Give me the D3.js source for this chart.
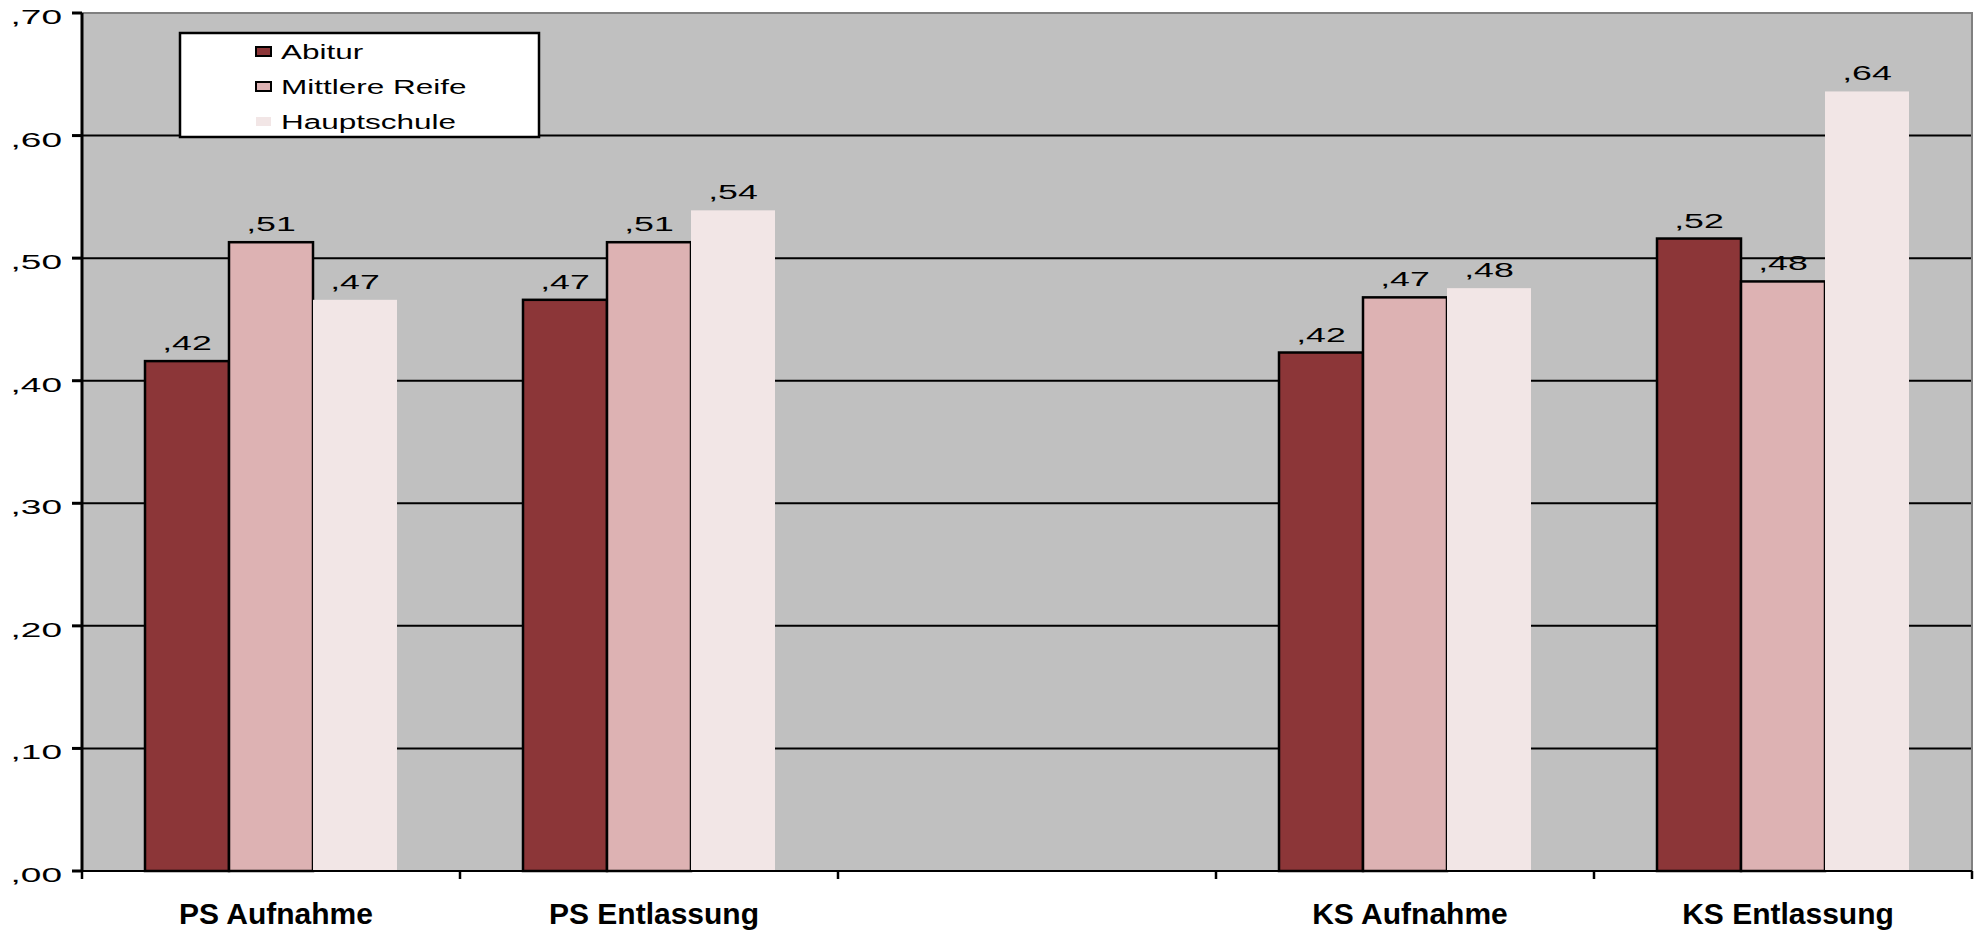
<!DOCTYPE html>
<html>
<head>
<meta charset="utf-8">
<script src="https://cdn.jsdelivr.net/npm/d3@7"></script>
<style>
  html, body { margin: 0; padding: 0; background: #ffffff; }
  svg { display: block; }
  text { font-family: "Liberation Sans", Arial, sans-serif; fill: #000; }
</style>
</head>
<body>
<svg id="chart" width="1980" height="932"></svg>
<script>
// ---- data ----
const categories = ["PS Aufnahme", "PS Entlassung", " ", "KS Aufnahme", "KS Entlassung"];
const seriesNames = ["Abitur", "Mittlere Reife", "Hauptschule"];
const abitur      = [0.416, 0.466, null, 0.423, 0.516];
const mittlere    = [0.513, 0.513, null, 0.468, 0.481];
const hauptschule = [0.466, 0.539, null, 0.4755, 0.636];
const yTicks = [0, 0.1, 0.2, 0.3, 0.4, 0.5, 0.6, 0.7];

const seriesValues = [abitur, mittlere, hauptschule];
const colors = ["#8C3638", "#DDB2B3", "#F2E6E6"];
const strokes = ["#000", "#000", "none"];

const fmt = v => d3.format(".2f")(v).replace(/^0/, "").replace(".", ",");

const svg = d3.select("#chart");
const L = 82, R = 1972, T = 13, B = 871;

const x = d3.scaleBand().domain(categories).range([L, R]).paddingInner(0).paddingOuter(0);
const bw = x.bandwidth();
const xs = d3.scaleBand().domain(seriesNames).range([bw / 6, bw * 5 / 6]).padding(0);
const y = d3.scaleLinear().domain([0, 0.7]).range([B, T]);

// plot background
svg.append("rect").attr("x", L).attr("y", T).attr("width", R - L).attr("height", B - T)
  .attr("fill", "#C0C0C0");

// gridlines
svg.append("g").selectAll("line").data(yTicks.filter(t => t > 0 && t < 0.7)).join("line")
  .attr("x1", L).attr("x2", R).attr("y1", d => y(d)).attr("y2", d => y(d))
  .attr("stroke", "#000").attr("stroke-width", 2);

// top & right border
svg.append("path").attr("d", `M${L},${y(0.7)}H${R}V${B}`)
  .attr("fill", "none").attr("stroke", "#808080").attr("stroke-width", 2);

// data rows
const rows = [];
categories.forEach((c, i) => {
  seriesNames.forEach((s, j) => {
    const v = seriesValues[j][i];
    if (v != null) rows.push({ c, s, j, v });
  });
});

// bars
svg.append("g").selectAll("rect").data(rows).join("rect")
  .attr("x", d => x(d.c) + xs(d.s))
  .attr("y", d => y(d.v))
  .attr("width", xs.bandwidth())
  .attr("height", d => y(0) - y(d.v))
  .attr("fill", d => colors[d.j])
  .attr("stroke", d => strokes[d.j])
  .attr("stroke-width", 2.5);

// value labels
svg.append("g").selectAll("text").data(rows).join("text")
  .attr("transform", d => `translate(${x(d.c) + xs(d.s) + xs.bandwidth() / 2},${y(d.v) - 11}) scale(1.7,1)`)
  .attr("text-anchor", "middle")
  .attr("font-size", 21)
  .text(d => fmt(d.v));

// y axis
const yAxis = svg.append("g");
yAxis.append("line").attr("x1", L).attr("x2", L).attr("y1", T).attr("y2", B)
  .attr("stroke", "#000").attr("stroke-width", 3);
yAxis.selectAll("line.tick").data(yTicks).join("line").attr("class", "tick")
  .attr("x1", L - 10).attr("x2", L).attr("y1", d => y(d)).attr("y2", d => y(d))
  .attr("stroke", "#000").attr("stroke-width", 3);
yAxis.selectAll("text").data(yTicks).join("text")
  .attr("transform", d => `translate(62,${y(d) + 11}) scale(1.85,1)`)
  .attr("text-anchor", "end")
  .attr("font-size", 20)
  .text(d => fmt(d));

// x axis
const xAxis = svg.append("g");
xAxis.append("line").attr("x1", L).attr("x2", R).attr("y1", B).attr("y2", B)
  .attr("stroke", "#000").attr("stroke-width", 2);
const bounds = categories.map(c => x(c)).concat([x(categories[categories.length - 1]) + bw]);
xAxis.selectAll("line.tick").data(bounds).join("line").attr("class", "tick")
  .attr("x1", d => d).attr("x2", d => d).attr("y1", B).attr("y2", B + 8)
  .attr("stroke", "#000").attr("stroke-width", 2.5);
xAxis.selectAll("text").data(categories).join("text")
  .attr("x", d => x(d) + bw / 2 + 5)
  .attr("y", 924)
  .attr("text-anchor", "middle")
  .attr("font-size", 30)
  .attr("font-weight", "bold")
  .text(d => d.trim());

// legend
const lg = svg.append("g");
lg.append("rect").attr("x", 180).attr("y", 33).attr("width", 359).attr("height", 104)
  .attr("fill", "#fff").attr("stroke", "#000").attr("stroke-width", 2.5);
const items = lg.selectAll("g").data(seriesNames).join("g")
  .attr("transform", (d, i) => `translate(0,${59 + i * 35})`);
items.append("rect").attr("x", 256).attr("y", -12).attr("width", 15).attr("height", 9)
  .attr("fill", (d, i) => colors[i])
  .attr("stroke", (d, i) => strokes[i]).attr("stroke-width", 2);
items.append("text")
  .attr("transform", "translate(281,0) scale(1.5,1)")
  .attr("font-size", 21)
  .text(d => d);
</script>
</body>
</html>
